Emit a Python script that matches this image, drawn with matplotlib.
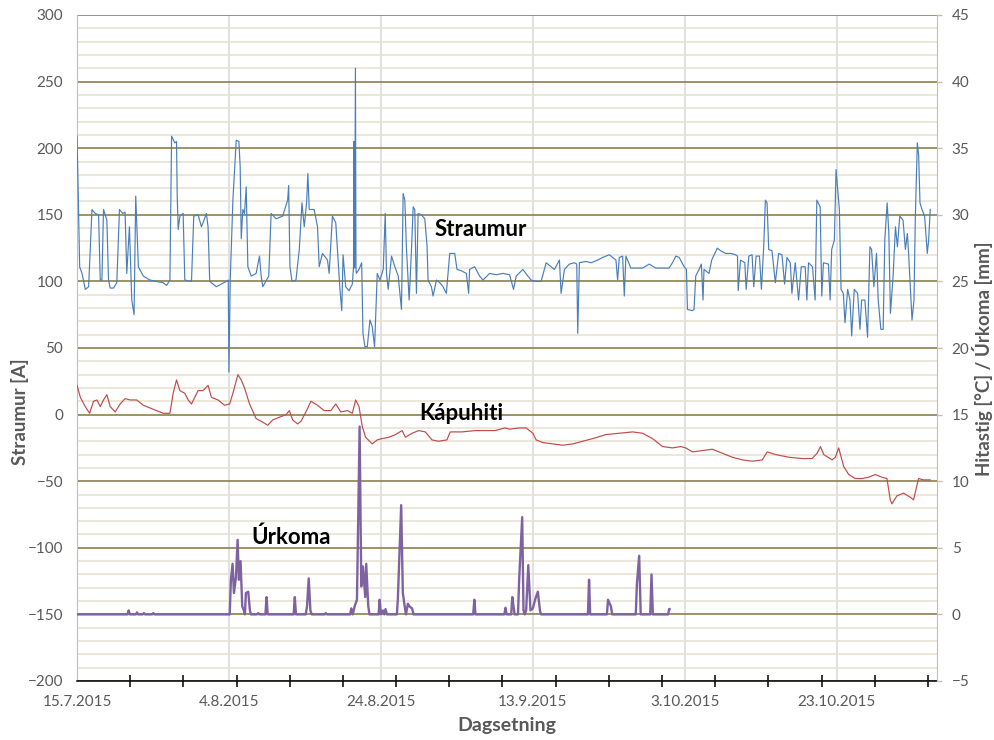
import numpy as np
import pandas as pd
import matplotlib
matplotlib.use("Agg")
import matplotlib.pyplot as plt
import matplotlib.dates as mdates
from matplotlib.ticker import MultipleLocator, FixedLocator

# ---------------- data ----------------
start_date = "2015-07-15"
end_offset_days = 113.2

# Straumur [A] (left axis); x = days after 15.7.2015
current_days = [
    0.00, 0.09, 0.35, 0.66, 1.09, 1.53, 1.97, 2.40, 2.84, 3.06,
    3.28, 3.49, 3.93, 4.15, 4.37, 4.80, 5.24, 5.59, 6.03, 6.33,
    6.55, 6.90, 7.21, 7.51, 7.73, 8.08, 8.73, 9.61, 10.48, 11.35,
    11.79, 12.23, 12.45, 12.88, 13.10, 13.19, 13.32, 13.54, 13.97, 14.19,
    15.07, 15.37, 15.94, 16.38, 16.59, 17.03, 17.25, 17.47, 18.34, 19.65,
    19.91, 20.00, 20.17, 20.52, 20.96, 21.31, 21.48, 21.62, 21.83, 22.05,
    22.27, 22.49, 22.93, 23.58, 24.02, 24.24, 24.45, 25.24, 25.55, 26.20,
    27.07, 27.73, 27.86, 28.03, 28.30, 28.82, 29.26, 29.61, 29.91, 30.22,
    30.39, 30.57, 31.22, 31.66, 31.88, 32.31, 32.97, 33.19, 33.62, 34.06,
    34.28, 34.59, 34.85, 35.02, 35.37, 35.81, 36.24, 36.40, 36.45, 36.55,
    36.65, 36.72, 36.77, 37.12, 37.47, 37.64, 37.90, 38.21, 38.56, 38.86,
    39.17, 39.52, 39.87, 40.31, 40.57, 40.74, 40.96, 41.40, 41.84, 42.28,
    42.71, 42.93, 43.15, 43.37, 43.72, 44.03, 44.25, 44.46, 44.68, 44.90,
    45.34, 45.78, 46.08, 46.21, 46.65, 46.87, 47.31, 47.75, 48.18, 48.62,
    48.84, 49.06, 49.72, 50.02, 50.59, 51.25, 51.55, 51.68, 52.34, 53.00,
    53.44, 54.31, 55.19, 56.06, 56.94, 57.46, 57.81, 58.69, 59.34, 59.78,
    60.44, 61.09, 61.75, 62.41, 62.84, 63.50, 63.72, 64.16, 64.81, 65.47,
    65.78, 65.91, 66.13, 67.00, 67.66, 68.53, 69.19, 70.07, 70.94, 71.16,
    71.38, 71.82, 72.04, 72.25, 72.91, 73.57, 74.44, 75.32, 76.19, 77.07,
    77.94, 78.38, 78.82, 79.26, 79.91, 80.22, 80.35, 81.00, 81.22, 81.44,
    81.88, 82.18, 82.40, 82.53, 83.19, 83.54, 84.28, 84.72, 85.37, 86.03,
    86.68, 86.94, 87.03, 87.34, 87.90, 88.08, 88.43, 88.86, 89.08, 89.39,
    89.83, 90.09, 90.39, 90.61, 90.83, 91.05, 91.48, 91.92, 92.36, 92.79,
    93.14, 93.45, 93.89, 94.10, 94.54, 94.98, 95.33, 95.85, 96.07, 96.29,
    96.81, 97.16, 97.38, 97.82, 98.03, 98.25, 98.91, 99.13, 99.34, 99.69,
    99.91, 100.13, 100.35, 100.57, 100.87, 101.09, 101.44, 101.75, 101.97, 102.31,
    102.75, 103.06, 103.28, 103.71, 104.06, 104.37, 104.59, 104.89, 105.24, 105.46,
    105.81, 106.11, 106.33, 106.64, 106.86, 107.07, 107.42, 107.73, 107.99, 108.30,
    108.73, 109.04, 109.30, 109.48, 109.69, 109.91, 110.17, 110.35, 110.61, 110.79,
    110.96, 111.22, 111.57, 111.92, 112.10, 112.31,
]
current_A = [
    209, 186, 111, 106, 94, 96, 154, 151, 150, 101,
    101, 154, 146, 101, 95, 95, 99, 154, 151, 152,
    106, 141, 86, 75, 164, 111, 104, 101, 100, 99,
    97, 101, 209, 204, 205, 164, 139, 149, 151, 101,
    100, 149, 150, 141, 144, 151, 141, 100, 96, 100,
    101, 32, 101, 161, 206, 205, 186, 132, 154, 151,
    171, 111, 104, 106, 119, 104, 96, 104, 151, 147,
    149, 161, 172, 111, 100, 101, 124, 159, 141, 159,
    181, 154, 154, 141, 111, 121, 116, 106, 149, 144,
    124, 96, 78, 120, 96, 93, 98, 111, 205, 110,
    260, 110, 106, 109, 114, 61, 51, 51, 71, 66,
    51, 106, 101, 109, 151, 106, 94, 119, 111, 104,
    79, 166, 161, 124, 86, 124, 156, 154, 91, 151,
    150, 147, 126, 101, 96, 89, 101, 99, 96, 91,
    106, 121, 121, 109, 108, 106, 91, 109, 111, 104,
    101, 106, 105, 106, 105, 94, 104, 109, 104, 101,
    100, 100, 114, 111, 109, 116, 91, 109, 113, 114,
    113, 61, 114, 115, 114, 116, 118, 120, 116, 101,
    118, 119, 89, 119, 110, 110, 110, 113, 110, 110,
    110, 114, 119, 118, 111, 109, 79, 78, 79, 104,
    109, 113, 86, 109, 106, 116, 125, 123, 121, 121,
    120, 119, 93, 116, 114, 94, 119, 120, 96, 119,
    119, 94, 126, 161, 159, 124, 123, 99, 121, 120,
    98, 118, 114, 91, 114, 86, 111, 111, 86, 114,
    111, 86, 161, 156, 89, 114, 113, 86, 124, 131,
    184, 169, 154, 94, 91, 69, 94, 86, 59, 94,
    91, 64, 86, 86, 58, 126, 124, 96, 121, 86,
    64, 64, 131, 159, 136, 76, 104, 141, 126, 149,
    146, 124, 136, 119, 96, 71, 86, 149, 204, 194,
    159, 154, 149, 121, 131, 154,
]

# Kápuhiti [°C] (right axis)
temp_days = [
    0.00, 0.44, 1.09, 1.66, 2.18, 2.62, 3.06, 3.49, 3.93, 4.37,
    5.02, 5.68, 6.33, 6.99, 7.86, 8.73, 9.61, 10.48, 11.35, 12.23,
    12.66, 13.10, 13.54, 14.19, 14.63, 15.07, 15.50, 15.94, 16.59, 17.25,
    17.69, 18.56, 19.43, 20.09, 20.52, 21.18, 21.62, 22.05, 22.71, 23.58,
    24.24, 25.11, 25.76, 26.64, 27.51, 27.95, 28.38, 29.04, 29.48, 30.13,
    30.79, 31.66, 32.53, 33.41, 34.06, 34.72, 35.59, 36.24, 36.68, 37.12,
    37.55, 37.99, 38.86, 39.52, 40.17, 41.05, 41.92, 42.79, 43.23, 44.10,
    44.98, 45.85, 46.72, 47.60, 48.69, 49.13, 50.66, 52.40, 54.15, 55.02,
    56.33, 56.94, 58.25, 59.12, 60.00, 60.44, 61.31, 62.63, 63.94, 65.25,
    66.56, 67.88, 69.63, 71.38, 73.13, 74.44, 75.75, 77.07, 78.38, 79.47,
    80.13, 81.01, 82.32, 83.63, 84.95, 86.26, 87.57, 88.88, 90.20, 90.85,
    91.95, 93.70, 95.45, 96.76, 97.42, 97.86, 98.29, 99.39, 99.82, 100.26,
    100.92, 101.58, 102.45, 103.33, 104.20, 105.08, 105.95, 106.61, 107.05, 107.27,
    107.92, 108.80, 109.67, 110.11, 110.77, 111.42, 112.30,
]
temp_C = [
    17.2, 16.3, 15.6, 15.1, 16.0, 16.1, 15.6, 16.1, 16.5, 15.6,
    15.2, 15.8, 16.2, 16.1, 16.1, 15.7, 15.5, 15.3, 15.1, 15.1,
    16.6, 17.6, 16.8, 16.6, 16.1, 15.8, 16.3, 16.8, 16.8, 17.2,
    16.3, 16.1, 15.7, 15.8, 16.6, 18.0, 17.6, 17.0, 15.8, 14.7,
    14.5, 14.2, 14.6, 14.8, 15.0, 15.3, 14.6, 14.3, 14.5, 15.2,
    16.0, 15.7, 15.3, 15.3, 15.8, 15.2, 15.3, 15.1, 16.1, 15.6,
    14.1, 13.3, 12.8, 13.1, 13.2, 13.3, 13.5, 13.8, 13.3, 13.6,
    13.8, 13.7, 13.1, 13.0, 13.1, 13.7, 13.7, 13.8, 13.8, 13.8,
    14.0, 13.9, 14.0, 14.0, 13.6, 13.1, 12.9, 12.8, 12.7, 12.8,
    13.0, 13.2, 13.5, 13.6, 13.7, 13.6, 13.2, 12.6, 12.5, 12.6,
    12.5, 12.2, 12.3, 12.4, 12.1, 11.8, 11.6, 11.5, 11.6, 12.2,
    12.0, 11.8, 11.7, 11.7, 12.1, 12.6, 12.0, 11.6, 11.8, 12.5,
    11.1, 10.5, 10.2, 10.2, 10.3, 10.5, 10.3, 10.2, 8.6, 8.3,
    8.9, 9.1, 8.8, 8.6, 10.2, 10.1, 10.1,
]

# Úrkoma [mm] (right axis)
rain_days = [
    0.0,
    6.65, 6.8, 6.95,
    7.75, 7.9, 8.05,
    8.65, 8.8, 8.95,
    9.9, 10.05, 10.2,
    20.1, 20.26, 20.48, 20.66, 20.92, 21.14, 21.31, 21.53, 21.75, 21.97, 22.1,
    22.23, 22.54, 22.76, 22.9,
    23.7, 23.85, 24.0,
    24.8, 24.95, 25.1,
    28.52, 28.67, 28.82,
    30.1, 30.28, 30.5, 30.72, 30.9,
    32.6, 32.74, 32.9,
    35.95, 36.11, 36.3, 36.54, 36.85, 37.2, 37.42, 37.64, 37.94, 38.07, 38.34, 38.5,
    39.7, 39.83, 40.0, 40.26, 40.45, 40.61, 40.8,
    42.1, 42.23, 42.67, 42.89, 43.11, 43.3, 43.55, 43.76, 44.11, 44.3,
    52.15, 52.3, 52.45,
    56.25, 56.4, 56.55,
    57.15, 57.3, 57.46, 57.6,
    58.05, 58.2, 58.6, 58.77, 58.95, 59.12, 59.4, 59.69, 60.0, 60.35, 60.66, 60.96, 61.1,
    67.25, 67.4, 67.55,
    69.75, 69.9, 70.28, 70.45,
    73.55, 73.7, 74.0, 74.2,
    75.45, 75.62, 75.8,
    77.8, 77.94, 78.0,
]
rain_mm = [
    0,
    0, 0.3, 0,
    0, 0.15, 0,
    0, 0.1, 0,
    0, 0.1, 0,
    0, 2.6, 3.8, 1.6, 2.8, 5.6, 2.6, 4.0, 0.6, 0.3, 0,
    1.6, 1.7, 0.3, 0,
    0, 0.1, 0,
    0, 1.3, 0,
    0, 1.3, 0,
    0, 0.6, 2.7, 0.3, 0,
    0, 0.1, 0,
    0, 0.45, 0, 0.6, 1.1, 14.1, 2.1, 3.6, 1.3, 3.8, 0.6, 0,
    0, 1.1, 0, 0.3, 0, 0.4, 0,
    0, 1.1, 8.2, 1.6, 0.7, 0, 0.8, 0.6, 0.45, 0,
    0, 1.1, 0,
    0, 0.5, 0,
    0, 1.3, 0.6, 0,
    0, 2.6, 7.3, 0.3, 0, 0.3, 3.7, 0.3, 0.45, 1.2, 1.7, 0.2, 0,
    0, 2.6, 0,
    0, 1.1, 0.6, 0,
    0, 2.3, 4.4, 0,
    0, 3.0, 0,
    0, 0.4, 0.4,
]

date_labels = ["15.7.2015", "4.8.2015", "24.8.2015", "13.9.2015", "3.10.2015", "23.10.2015"]

# ---------------- helpers ----------------
t0 = pd.Timestamp(start_date)


def to_dates(days):
    return t0 + pd.to_timedelta(np.asarray(days, dtype=float), unit="D")


FONT = ["Lato", "DejaVu Sans"]
plt.rcParams["font.family"] = FONT

C_BLUE = "#4A7EBB"
C_RED = "#BE4B48"
C_PURPLE = "#7F63A1"
C_MAJOR = "#8C8048"
C_MINOR = "#E6E1CF"
C_VGRID = "#D9D9D9"
C_TXT = "#595959"

fig = plt.figure(figsize=(9.95, 7.40), dpi=100)
ax = fig.add_axes([77 / 995, 59 / 740, 860 / 995, 666 / 740])
ax2 = ax.twinx()
ax.set_zorder(1)
ax2.set_zorder(2)
ax.patch.set_visible(True)
ax2.patch.set_visible(False)

# data
ax.plot(to_dates(current_days), current_A, color=C_BLUE, lw=0.85, zorder=3)
ax2.plot(to_dates(temp_days), temp_C, color=C_RED, lw=0.85, zorder=3)
ax2.plot(to_dates(rain_days), rain_mm, color=C_PURPLE, lw=1.7, zorder=4)

# limits
x0 = mdates.date2num(t0)
ax.set_xlim(x0, x0 + end_offset_days)
ax.set_ylim(-200, 300)
ax2.set_ylim(-5, 45)

# y grid and ticks
ax.yaxis.set_major_locator(MultipleLocator(50))
ax.yaxis.set_minor_locator(MultipleLocator(10))
ax.grid(which="minor", axis="y", color=C_MINOR, lw=1.1, zorder=0)
ax.grid(which="major", axis="y", color=C_MAJOR, lw=1.2, zorder=0.5)
ax.tick_params(axis="y", which="both", length=0, labelsize=11,
               labelcolor=C_TXT, pad=10)

# x ticks: labels + gridlines every 20 days, tick marks every 7 days
label_pos = mdates.date2num(pd.to_datetime(date_labels, format="%d.%m.%Y"))
ax.xaxis.set_major_locator(FixedLocator(label_pos))
ax.set_xticklabels(date_labels)
ax.xaxis.set_minor_locator(FixedLocator(x0 + np.arange(0, 114, 7)))
ax.grid(which="major", axis="x", color=C_VGRID, lw=1.1, zorder=0)
ax.tick_params(axis="x", which="major", length=0, labelsize=11,
               labelcolor=C_TXT, pad=10)
ax.tick_params(axis="x", which="minor", length=9, width=1.1,
               direction="inout", color="black")

# right axis
ax2.yaxis.set_major_locator(MultipleLocator(5))
ax2.tick_params(axis="y", which="major", length=3.6, width=1, color="#BFBFBF",
                labelsize=11, labelcolor=C_TXT, pad=7)

# spines
for s in ["top", "right"]:
    ax.spines[s].set_visible(False)
ax.spines["left"].set_color("#BFBFBF")
ax.spines["bottom"].set_color("black")
ax.spines["bottom"].set_linewidth(1.1)
for s in ["top", "left", "bottom"]:
    ax2.spines[s].set_visible(False)
ax2.spines["right"].set_color("#BFBFBF")

# axis titles
fig.text(20 / 995, 1 - 412 / 740, "Straumur [A]", rotation=90, fontsize=13.5,
         fontweight="bold", color=C_TXT, ha="center", va="center")
fig.text(983 / 995, 1 - 359 / 740, "Hitastig [°C] / Úrkoma [mm]", rotation=90,
         fontsize=13.5, fontweight="bold", color=C_TXT, ha="center", va="center")
ax.set_xlabel("Dagsetning", fontsize=14, fontweight="bold", color=C_TXT, labelpad=6)

# series annotations
ax.text(to_dates([47.1])[0], 139, "Straumur", fontsize=16, fontweight="bold",
        color="black", va="center", ha="left", zorder=6)
ax.text(to_dates([45.0])[0], 1, "Kápuhiti", fontsize=16, fontweight="bold",
        color="black", va="center", ha="left", zorder=6)
ax.text(to_dates([23.0])[0], -92, "Úrkoma", fontsize=16, fontweight="bold",
        color="black", va="center", ha="left", zorder=6)

fig.savefig("out.png", dpi=100)
